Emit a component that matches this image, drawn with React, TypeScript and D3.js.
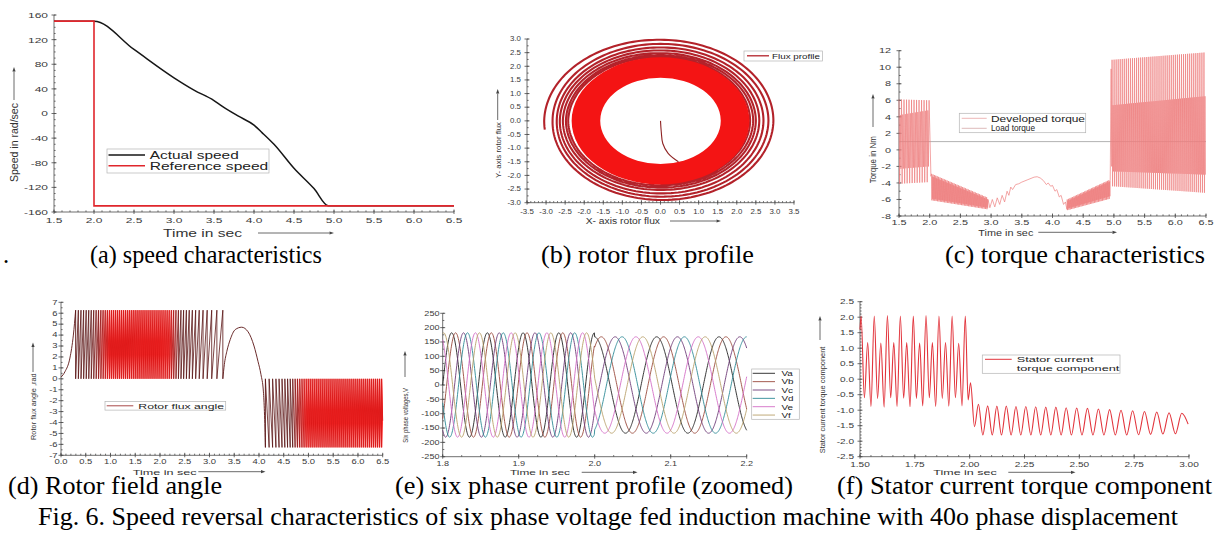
import React from "react";
import * as d3 from "d3";

type Pt = [number, number];
type Lin = d3.ScaleLinear<number, number>;

const SANS = "'Liberation Sans', Arial, sans-serif";
const SERIF = "'Liberation Serif', 'Times New Roman', Times, serif";
const DEG = Math.PI / 180;

// ---------------- (a) speed characteristics ----------------
const speedTime = [1.5, 2.0, 2.5, 3.0, 3.25, 3.5, 3.6, 3.8, 4.0, 4.1, 4.25, 4.5, 4.75, 4.93, 6.5];
const actualSpeed = [150, 150, 104, 58, 38, 21, 12, -4, -19, -31, -50, -89, -122, -150, -150];
const refTime = [1.5, 2.0, 2.0, 6.5];
const refSpeed = [150, 150, -150, -150];
const speedXTicks = [1.5, 2.0, 2.5, 3.0, 3.5, 4.0, 4.5, 5.0, 5.5, 6.0, 6.5];
const speedYTicks = [-160, -120, -80, -40, 0, 40, 80, 120, 160];

// ---------------- (b) rotor flux profile ----------------
// outer spiral: radius read at each quarter turn (deg, clockwise from +Y)
const spiralDeg = [264, 270, 360, 450, 540, 630, 720, 810, 900, 990, 1080, 1170, 1260, 1350, 1440, 1530, 1620, 1710, 1800, 1890, 1980, 2070, 2160, 2250, 2340, 2430, 2520, 2610, 2700];
const spiralR = [3.05, 3.05, 2.97, 2.96, 2.9, 2.83, 2.82, 2.83, 2.78, 2.72, 2.69, 2.7, 2.66, 2.64, 2.58, 2.59, 2.53, 2.56, 2.48, 2.5, 2.44, 2.48, 2.4, 2.43, 2.36, 2.42, 2.33, 2.35, 2.3];
const fluxBand = [1.58, 2.33]; // dense steady-state ring, inner / outer radius
const fluxStartX = [0, 0.02, 0.06, 0.2, 0.47];
const fluxStartY = [0, -0.4, -0.83, -1.19, -1.5];
const fluxXTicks = [-3.5, -3, -2.5, -2, -1.5, -1, -0.5, 0, 0.5, 1, 1.5, 2, 2.5, 3, 3.5];
const fluxYTicks = [-3, -2.5, -2, -1.5, -1, -0.5, 0, 0.5, 1, 1.5, 2, 2.5, 3];

// ---------------- (c) torque characteristics ----------------
type Band = { t0: number; t1: number; cycles: number; tall: Pt; low: Pt; deep: Pt; shallow: Pt };
const torqueBands: Band[] = [
  { t0: 1.5, t1: 1.99, cycles: 12, tall: [6.1, 6.0], low: [4.2, 4.8], deep: [-4.1, -3.9], shallow: [-2.3, -2.0] },
  { t0: 2.03, t1: 2.95, cycles: 40, tall: [-2.9, -5.8], low: [-3.2, -6.0], deep: [-6.1, -7.2], shallow: [-5.9, -7.0] },
  { t0: 4.24, t1: 4.94, cycles: 32, tall: [-6.0, -3.6], low: [-6.2, -3.8], deep: [-7.3, -5.9], shallow: [-7.1, -5.6] },
  { t0: 4.97, t1: 6.5, cycles: 46, tall: [10.9, 11.8], low: [5.4, 6.5], deep: [-4.4, -5.2], shallow: [-2.6, -3.0] },
];
const torqueLink0: Pt[] = [[1.99, 6.0], [2.02, -3.2]];
const torqueLink1: Pt[] = [[2.95, -6.0], [2.98, -7.0], [3.02, -6.0], [3.06, -6.9], [3.1, -5.8], [3.14, -6.6], [3.18, -5.5], [3.22, -6.3], [3.26, -5.0], [3.29, -5.5], [3.32, -4.5], [3.35, -4.8], [3.4, -4.2], [3.45, -4.1], [3.5, -3.9], [3.6, -3.6], [3.7, -3.3], [3.75, -3.25], [3.8, -3.4], [3.85, -3.7], [3.9, -4.2], [3.93, -4.0], [3.97, -4.4], [4.0, -4.3], [4.04, -5.0], [4.07, -4.8], [4.11, -5.7], [4.14, -5.5], [4.18, -6.6], [4.21, -6.3], [4.235, -7.2]];
const torqueLink2: Pt[] = [[4.94, -3.7], [4.955, 9.8], [4.965, -2.0]];
const loadTorque = 1;
const torqueXTicks = [1.5, 2.0, 2.5, 3.0, 3.5, 4.0, 4.5, 5.0, 5.5, 6.0, 6.5];
const torqueYTicks = [-8, -6, -4, -2, 0, 2, 4, 6, 8, 10, 12];

// ---------------- (d) rotor field angle ----------------
const angleStart: Pt[] = [[0, 0.15], [0.08, 0.65], [0.18, 1.9], [0.25, 4.0], [0.296, 6.28]];
const angleHump: Pt[] = [[3.27, 0], [3.3, 1.3], [3.35, 2.5], [3.42, 3.6], [3.52, 4.5], [3.65, 4.72], [3.78, 4.3], [3.9, 3.0], [3.98, 1.6], [4.04, 0.4], [4.09, -1.2], [4.11, -3.0], [4.13, -6.28]];
// sawtooth wrap period (s) read at a few instants
const posWrapT = [0.3, 0.7, 1.0, 1.5, 2.2, 2.6, 3.0, 3.27];
const posWrapP = [0.056, 0.05, 0.042, 0.04, 0.043, 0.06, 0.09, 0.13];
const negWrapT = [4.13, 4.4, 4.7, 5.0, 6.5];
const negWrapP = [0.075, 0.06, 0.048, 0.04, 0.04];
const angleXTicks = [0, 0.5, 1, 1.5, 2, 2.5, 3, 3.5, 4, 4.5, 5, 5.5, 6, 6.5];
const angleYTicks = [-7, -6, -5, -4, -3, -2, -1, 0, 1, 2, 3, 4, 5, 6, 7];

// ---------------- (e) six phase voltages ----------------
const phaseNames = ["Va", "Vb", "Vc", "Vd", "Ve", "Vf"];
const phaseColors = ["#222222", "#9a4a3c", "#6e3b78", "#2e8a96", "#d46ec6", "#b9a06a"];
const phaseShiftDeg = [0, 40, 120, 160, 240, 280];
const voltPeriod = [0.047, 0.082]; // before / after 2.0 s
const voltPeak = [182, 168];
const voltXTicks = [1.8, 1.9, 2.0, 2.1, 2.2];
const voltYTicks = [-250, -200, -150, -100, -50, 0, 50, 100, 150, 200, 250];

// ---------------- (f) stator current torque component ----------------
const currentPts: Pt[] = [
  [1.5, 1.6], [1.505, 2.04], [1.52, -0.6], [1.535, 1.18], [1.55, -0.88], [1.565, 2.04], [1.58, -0.62], [1.595, 1.17], [1.61, -0.9],
  [1.625, 2.05], [1.64, -0.6], [1.654, 1.18], [1.669, -0.88], [1.684, 2.04], [1.699, -0.61], [1.713, 1.18], [1.728, -0.89],
  [1.743, 2.04], [1.757, -0.62], [1.772, 1.17], [1.786, -0.86], [1.801, 2.05], [1.816, -0.6], [1.83, 1.18], [1.845, -0.88],
  [1.86, 2.04], [1.875, -0.62], [1.89, 1.18], [1.905, -0.87], [1.92, 2.04], [1.935, -0.6], [1.95, 1.16], [1.965, -0.86],
  [1.98, 2.04], [1.993, -0.67], [2.004, -0.12], [2.022, -1.53], [2.04, -0.81], [2.06, -1.8],
  [2.082, -0.86], [2.103, -1.8], [2.124, -0.87], [2.145, -1.8], [2.167, -0.87], [2.189, -1.8], [2.211, -0.88], [2.233, -1.8],
  [2.256, -0.88], [2.279, -1.8], [2.301, -0.89], [2.324, -1.8], [2.347, -0.9], [2.37, -1.8], [2.393, -0.9], [2.417, -1.8],
  [2.44, -0.92], [2.464, -1.8], [2.488, -0.93], [2.512, -1.8], [2.537, -0.94], [2.562, -1.8], [2.587, -0.96], [2.612, -1.8],
  [2.638, -0.98], [2.664, -1.8], [2.69, -1.0], [2.716, -1.8], [2.743, -1.02], [2.77, -1.79], [2.797, -1.04], [2.825, -1.78],
  [2.853, -1.06], [2.881, -1.77], [2.909, -1.08], [2.938, -1.76], [2.967, -1.1], [2.996, -1.45],
];
const currentXTicks = [1.5, 1.75, 2.0, 2.25, 2.5, 2.75, 3.0];
const currentYTicks = [-2.5, -2, -1.5, -1, -0.5, 0, 0.5, 1, 1.5, 2, 2.5];

// ---------------- scales (pixel boxes) ----------------
const aX = d3.scaleLinear().domain([1.5, 6.5]).range([54, 454]);
const aY = d3.scaleLinear().domain([-160, 160]).range([212, 15]);
const bX = d3.scaleLinear().domain([-3.5, 3.5]).range([527, 794]);
const bY = d3.scaleLinear().domain([-3, 3]).range([202.7, 39]);
const cX = d3.scaleLinear().domain([1.5, 6.5]).range([899, 1206]);
const cY = d3.scaleLinear().domain([-8, 12]).range([216, 50.7]);
const dX = d3.scaleLinear().domain([0, 6.5]).range([61, 382.7]);
const dY = d3.scaleLinear().domain([-7, 7]).range([455.3, 302.3]);
const eX = d3.scaleLinear().domain([1.8, 2.2]).range([442.7, 746.7]);
const eY = d3.scaleLinear().domain([-250, 250]).range([456.7, 313.3]);
const fX = d3.scaleLinear().domain([1.5, 3.0]).range([860, 1189]);
const fY = d3.scaleLinear().domain([-2.5, 2.5]).range([456.7, 301.7]);

// ---------------- helpers ----------------
function Txt(p: { x: number; y: number; size: number; children: React.ReactNode; anchor?: string; rot?: number; sx?: number; len?: number; fill?: string; family?: string }) {
  const { x, y, size, children, anchor = "start", rot = 0, sx = 1, len, fill = "#333", family = SANS } = p;
  const sc = rot !== 0 ? `scale(1,${sx})` : `scale(${sx},1)`;
  const extra: any = len ? { textLength: len, lengthAdjust: "spacingAndGlyphs" } : {};
  return (
    <text transform={`translate(${x},${y}) rotate(${rot}) ${sc}`} fontSize={size} fontFamily={family} textAnchor={anchor} fill={fill} {...extra}>
      {children}
    </text>
  );
}

function Arrow({ x1, y1, x2, y2 }: { x1: number; y1: number; x2: number; y2: number }) {
  const a = Math.atan2(y2 - y1, x2 - x1);
  const h = 4.5, w = 1.6;
  const bx = x2 - h * Math.cos(a), by = y2 - h * Math.sin(a);
  const pts = [[x2, y2], [bx + w * Math.sin(a), by - w * Math.cos(a)], [bx - w * Math.sin(a), by + w * Math.cos(a)]];
  return (
    <g>
      <line x1={x1} y1={y1} x2={bx} y2={by} stroke="#444" strokeWidth={0.8} />
      <polygon points={pts.map((q) => q.join(",")).join(" ")} fill="#444" />
    </g>
  );
}

function Axes(p: { xs: Lin; ys: Lin; xMaj: number[]; xMinStep: number; yMaj: number[]; yMinStep: number; xFmt: (v: number) => string; yFmt: (v: number) => string; fs: number; sx: number; xLabY: number; yLabX: number }) {
  const [xa, xb] = p.xs.range();
  const [yb, ya] = p.ys.range();
  const [dx0, dx1] = p.xs.domain();
  const [dy0, dy1] = p.ys.domain();
  const xMin = d3.range(dx0, dx1 + 1e-9, p.xMinStep);
  const yMin = d3.range(dy0, dy1 + 1e-9, p.yMinStep);
  return (
    <g>
      <g stroke="#4a4a4a" strokeWidth={0.8} fill="none">
        <line x1={xa} x2={xa} y1={ya} y2={yb} />
        <line x1={xa} x2={xb} y1={yb} y2={yb} />
        {yMin.map((v, i) => <line key={"ymn" + i} x1={xa} x2={xa + 1.6} y1={p.ys(v)} y2={p.ys(v)} />)}
        {p.yMaj.map((v, i) => <line key={"ymj" + i} x1={xa - 2.5} x2={xa + 2.5} y1={p.ys(v)} y2={p.ys(v)} />)}
        {xMin.map((v, i) => <line key={"xmn" + i} x1={p.xs(v)} x2={p.xs(v)} y1={yb} y2={yb - 1.6} />)}
        {p.xMaj.map((v, i) => <line key={"xmj" + i} x1={p.xs(v)} x2={p.xs(v)} y1={yb + 2} y2={yb - 2.5} />)}
      </g>
      {p.yMaj.map((v, i) => (
        <Txt key={"yl" + i} x={p.yLabX} y={p.ys(v) + p.fs * 0.36} size={p.fs} sx={p.sx} anchor="end" fill="#3a3a3a">{p.yFmt(v)}</Txt>
      ))}
      {p.xMaj.map((v, i) => (
        <Txt key={"xl" + i} x={p.xs(v)} y={p.xLabY} size={p.fs} sx={p.sx} anchor="middle" fill="#3a3a3a">{p.xFmt(v)}</Txt>
      ))}
    </g>
  );
}

function Box({ x, y, w, h }: { x: number; y: number; w: number; h: number }) {
  return <rect x={x} y={y} width={w} height={h} fill="#fff" stroke="#b4b4b4" strokeWidth={0.7} />;
}

const f1 = (v: number) => v.toFixed(1);
const f0 = (v: number) => String(v);
const f2 = (v: number) => v.toFixed(2);

// ---------------- panels ----------------
function SpeedPanel() {
  const ln = d3.line<Pt>().x((d) => aX(d[0])).y((d) => aY(d[1]));
  const actual = speedTime.map((t, i) => [t, actualSpeed[i]] as Pt);
  const ref = refTime.map((t, i) => [t, refSpeed[i]] as Pt);
  return (
    <g>
      <Axes xs={aX} ys={aY} xMaj={speedXTicks} xMinStep={0.1} yMaj={speedYTicks} yMinStep={10} xFmt={f1} yFmt={f0} fs={8} sx={1.5} xLabY={222.7} yLabX={48} />
      <path d={ln.curve(d3.curveMonotoneX)(actual) || ""} fill="none" stroke="#161616" strokeWidth={1.5} />
      <path d={ln.curve(d3.curveLinear)(ref) || ""} fill="none" stroke="#e0262c" strokeWidth={1.6} />
      <Txt x={18} y={182} size={10.5} rot={-90} len={79}>Speed in rad/sec</Txt>
      <Arrow x1={14} y1={100} x2={14} y2={67} />
      <Txt x={163} y={236.5} size={10.5} len={79}>Time in sec</Txt>
      <Arrow x1={258} y1={233} x2={334} y2={233} />
      <Box x={107} y={149} w={162} h={24} />
      <line x1={108.5} x2={145} y1={155} y2={155} stroke="#161616" strokeWidth={1.5} />
      <line x1={108.5} x2={145} y1={165.7} y2={165.7} stroke="#e0262c" strokeWidth={1.6} />
      <Txt x={149.7} y={159} size={10.5} len={89} fill="#222">Actual speed</Txt>
      <Txt x={149.7} y={170} size={10.5} len={118.6} fill="#222">Reference speed</Txt>
    </g>
  );
}

function FluxPanel() {
  const kx = bX(1) - bX(0);
  const ky = bY(0) - bY(1);
  const rAt = d3.scaleLinear().domain(spiralDeg).range(spiralR);
  const angles = d3.range(spiralDeg[0], spiralDeg[spiralDeg.length - 1] + 0.1, 2);
  const spiral = d3.lineRadial<number>().angle((a) => a * DEG).radius((a) => rAt(a))(angles) || "";
  const ring = d3.arc<any>()({ innerRadius: fluxBand[0], outerRadius: fluxBand[1], startAngle: 0, endAngle: 2 * Math.PI }) || "";
  const start = fluxStartX.map((x, i) => [x, fluxStartY[i]] as Pt);
  const ln = d3.line<Pt>().x((d) => bX(d[0])).y((d) => bY(d[1])).curve(d3.curveCatmullRom);
  return (
    <g>
      <Axes xs={bX} ys={bY} xMaj={fluxXTicks} xMinStep={0.1} yMaj={fluxYTicks} yMinStep={0.25} xFmt={f1} yFmt={f1} fs={6.3} sx={1.25} xLabY={214.3} yLabX={521} />
      <g transform={`translate(${bX(0)},${bY(0)}) scale(${kx},${ky})`}>
        <path d={spiral} fill="none" stroke="#b3222a" strokeWidth={2.1} vectorEffect="non-scaling-stroke" />
        <path d={ring} fill="#f41414" />
      </g>
      <path d={ln(start) || ""} fill="none" stroke="#8e2323" strokeWidth={1.1} />
      <Txt x={500.5} y={178} size={7.5} rot={-90} len={56}>Y- axis rotor flux</Txt>
      <Arrow x1={497.7} y1={120} x2={497.7} y2={89} />
      <Txt x={585.7} y={224} size={8.5} len={74.3}>X- axis rotor flux</Txt>
      <Arrow x1={670} y1={221} x2={721} y2={221} />
      <Box x={744} y={51} w={78.5} h={10} />
      <line x1={747} x2={769} y1={55.8} y2={55.8} stroke="#b3222a" strokeWidth={1.3} />
      <Txt x={772} y={58.6} size={7.5} len={48} fill="#222">Flux profile</Txt>
    </g>
  );
}

function bandPoints(b: Band): Pt[] {
  const env = (r: Pt) => d3.scaleLinear().domain([b.t0, b.t1]).range(r);
  const tall = env(b.tall), low = env(b.low), deep = env(b.deep), shallow = env(b.shallow);
  const step = (b.t1 - b.t0) / b.cycles;
  const out: Pt[] = [];
  for (let i = 0; i < b.cycles; i++) {
    const t = b.t0 + i * step;
    const q = [t, t + step * 0.25, t + step * 0.5, t + step * 0.75];
    out.push([q[0], tall(q[0])], [q[1], deep(q[1])], [q[2], low(q[2])], [q[3], shallow(q[3])]);
  }
  return out;
}

function TorquePanel() {
  const pts: Pt[] = [
    ...bandPoints(torqueBands[0]), ...torqueLink0,
    ...bandPoints(torqueBands[1]), ...torqueLink1,
    ...bandPoints(torqueBands[2]), ...torqueLink2,
    ...bandPoints(torqueBands[3]),
  ];
  const ln = d3.line<Pt>().x((d) => cX(d[0])).y((d) => cY(d[1]));
  return (
    <g>
      <Axes xs={cX} ys={cY} xMaj={torqueXTicks} xMinStep={0.1} yMaj={torqueYTicks} yMinStep={1} xFmt={f1} yFmt={f0} fs={7.5} sx={1.45} xLabY={225} yLabX={891} />
      <line x1={cX(1.5)} x2={cX(6.5)} y1={cY(loadTorque)} y2={cY(loadTorque)} stroke="#a8a8a8" strokeWidth={0.9} />
      <path d={ln(pts) || ""} fill="none" stroke="#ee7f7f" strokeWidth={0.7} />
      <Txt x={876.3} y={183.3} size={8.5} rot={-90} len={47.3}>Torque in Nm</Txt>
      <Arrow x1={873} y1={127} x2={873} y2={94} />
      <Txt x={978.3} y={235.5} size={9.5} len={55}>Time in sec</Txt>
      <Arrow x1={1038.3} y1={232.3} x2={1117} y2={232.3} />
      <Box x={959.3} y={113.3} w={126.4} h={19.4} />
      <line x1={961.7} x2={986.7} y1={118.3} y2={118.3} stroke="#e9a3a3" strokeWidth={0.8} />
      <line x1={961.7} x2={986.7} y1={128.3} y2={128.3} stroke="#d4a8a8" strokeWidth={0.8} />
      <Txt x={991} y={121.8} size={8.5} len={94} fill="#222">Developed torque</Txt>
      <Txt x={991} y={131} size={8.5} len={44} fill="#222">Load torque</Txt>
    </g>
  );
}

function wrapTimes(t0: number, t1: number, kt: number[], kp: number[]) {
  const per = d3.scaleLinear().domain(kt).range(kp).clamp(true);
  const ts = [t0];
  while (ts[ts.length - 1] < t1) ts.push(ts[ts.length - 1] + per(ts[ts.length - 1]));
  return ts;
}

function AnglePanel() {
  const TWO_PI = 6.28;
  const col = d3.scaleLinear<string>().domain([0.042, 0.051]).range(["#d81414", "#5a1414"]).clamp(true);
  const glow = d3.scaleLinear().domain([0.041, 0.05]).range([0.85, 0]).clamp(true);
  // positive sawtooth, stretched to end exactly where the hump begins
  const raw = wrapTimes(0.296, 3.27, posWrapT, posWrapP);
  const s = (3.27 - 0.296) / (raw[raw.length - 1] - 0.296);
  const pos = raw.map((t) => 0.296 + (t - 0.296) * s);
  const neg = wrapTimes(4.13, 6.5, negWrapT, negWrapP);
  const ln = d3.line<Pt>().x((d) => dX(d[0])).y((d) => dY(d[1]));
  const teeth: { d: string; c: string; a: number; b: number; sign: number; o: number }[] = [];
  for (let i = 0; i < pos.length - 1; i++) {
    const a = pos[i], b = pos[i + 1];
    teeth.push({ d: ln([[a, 0], [b, TWO_PI], [b, 0]]) || "", c: col(b - a), a, b, sign: 1, o: glow(b - a) });
  }
  for (let i = 0; i < neg.length - 1; i++) {
    const a = neg[i], b = neg[i + 1];
    const bb = Math.min(b, 6.5);
    const d = b <= 6.5 ? ln([[a, 0], [b, -TWO_PI], [b, 0]]) : ln([[a, 0], [6.5, (-TWO_PI * (6.5 - a)) / (b - a)]]);
    teeth.push({ d: d || "", c: col(b - a), a, b: bb, sign: -1, o: glow(b - a) });
  }
  const smooth = d3.line<Pt>().x((d) => dX(d[0])).y((d) => dY(d[1])).curve(d3.curveMonotoneX);
  return (
    <g>
      <defs>
        <linearGradient id="glowGrad" x1="0" y1="0" x2="0" y2="1">
          <stop offset="0" stopColor="#ff2a2a" stopOpacity={0.35} />
          <stop offset="0.45" stopColor="#ff1010" stopOpacity={1} />
          <stop offset="0.65" stopColor="#ff1010" stopOpacity={1} />
          <stop offset="1" stopColor="#ff2a2a" stopOpacity={0.35} />
        </linearGradient>
      </defs>
      <Axes xs={dX} ys={dY} xMaj={angleXTicks} xMinStep={0.1} yMaj={angleYTicks} yMinStep={0.5} xFmt={f1} yFmt={f0} fs={6.5} sx={1.45} xLabY={464} yLabX={57.5} />
      {teeth.filter((t) => t.o > 0).map((t, i) => (
        <rect key={"g" + i} x={dX(t.a)} width={dX(t.b) - dX(t.a) + 0.3} y={t.sign > 0 ? dY(TWO_PI) : dY(0)} height={dY(0) - dY(TWO_PI)} fill="url(#glowGrad)" fillOpacity={t.o} />
      ))}
      <path d={smooth(angleStart) || ""} fill="none" stroke="#5a1414" strokeWidth={0.9} />
      <line x1={dX(0.296)} x2={dX(0.296)} y1={dY(TWO_PI)} y2={dY(0)} stroke="#5a1414" strokeWidth={0.9} />
      {teeth.map((t, i) => <path key={i} d={t.d} fill="none" stroke={t.c} strokeWidth={0.8} />)}
      <path d={smooth(angleHump) || ""} fill="none" stroke="#5a1414" strokeWidth={0.9} />
      <line x1={dX(4.13)} x2={dX(4.13)} y1={dY(-TWO_PI)} y2={dY(0)} stroke="#5a1414" strokeWidth={0.9} />
      <Txt x={35.5} y={440} size={7} rot={-90} len={66.7}>Rotor flux angle ,rad</Txt>
      <Arrow x1={33} y1={372} x2={33} y2={342.5} />
      <Txt x={132.7} y={474.5} size={7.5} len={64}>Time in sec</Txt>
      <Arrow x1={198.3} y1={471.7} x2={265.5} y2={471.7} />
      <Box x={105} y={401.5} w={120.7} h={8.6} />
      <line x1={106.7} x2={133.3} y1={405.8} y2={405.8} stroke="#a84848" strokeWidth={1} />
      <Txt x={138.3} y={408.6} size={7} len={85.7} fill="#222">Rotor flux angle</Txt>
    </g>
  );
}

function VoltPanel() {
  const samples = d3.range(1.8, 2.2 + 1e-9, 0.0005);
  const theta = (t: number) =>
    t < 2.0
      ? (2 * Math.PI * (t - 1.8)) / voltPeriod[0]
      : (2 * Math.PI * 0.2) / voltPeriod[0] + (2 * Math.PI * (t - 2.0)) / voltPeriod[1];
  const ln = d3.line<Pt>().x((d) => eX(d[0])).y((d) => eY(d[1]));
  return (
    <g>
      <Axes xs={eX} ys={eY} xMaj={voltXTicks} xMinStep={0.025} yMaj={voltYTicks} yMinStep={25} xFmt={f1} yFmt={f0} fs={6.5} sx={1.4} xLabY={466} yLabX={439.5} />
      {phaseNames.map((n, k) => {
        const pts = samples.map((t) => [t, (t < 2.0 ? voltPeak[0] : voltPeak[1]) * Math.sin(theta(t) - phaseShiftDeg[k] * DEG)] as Pt);
        return <path key={n} d={ln(pts) || ""} fill="none" stroke={phaseColors[k]} strokeWidth={0.9} />;
      })}
      <Txt x={407.5} y={442.7} size={6.5} rot={-90} len={54.7}>Six phase voltages,V</Txt>
      <Arrow x1={405} y1={377} x2={405} y2={351} />
      <Txt x={510} y={475} size={7.5} len={60}>Time in sec</Txt>
      <Arrow x1={581.7} y1={472.3} x2={637.5} y2={472.3} />
      <Box x={751.7} y={369} w={47.6} h={50.3} />
      {phaseNames.map((n, k) => (
        <g key={"lg" + n}>
          <line x1={752.7} x2={775} y1={373.3 + k * 8.35} y2={373.3 + k * 8.35} stroke={phaseColors[k]} strokeWidth={0.9} />
          <Txt x={781.5} y={376.1 + k * 8.35} size={7.3} sx={1.35} fill="#222">{n}</Txt>
        </g>
      ))}
    </g>
  );
}

function CurrentPanel() {
  const ln = d3.line<Pt>().x((d) => fX(d[0])).y((d) => fY(d[1])).curve(d3.curveMonotoneX);
  return (
    <g>
      <Axes xs={fX} ys={fY} xMaj={currentXTicks} xMinStep={0.05} yMaj={currentYTicks} yMinStep={0.1} xFmt={f2} yFmt={f1} fs={6.5} sx={1.55} xLabY={467} yLabX={854} />
      <path d={ln(currentPts) || ""} fill="none" stroke="#e2333b" strokeWidth={1.1} />
      <Txt x={824.5} y={453.3} size={7.5} rot={-90} len={106.7}>Stator current torque component</Txt>
      <Arrow x1={820} y1={340} x2={820} y2={316} />
      <Txt x={933.3} y={475} size={7.5} len={63.4}>Time in sec</Txt>
      <Arrow x1={1008.3} y1={472.3} x2={1075.5} y2={472.3} />
      <Box x={982.3} y={355} w={137.7} h={18.3} />
      <line x1={985} x2={1011.7} y1={359.3} y2={359.3} stroke="#e2333b" strokeWidth={1} />
      <Txt x={1016.7} y={362.3} size={8} len={76.7} fill="#222">Stator current</Txt>
      <Txt x={1016.7} y={371.3} size={8} len={102.7} fill="#222">torque component</Txt>
    </g>
  );
}

function Captions() {
  const cap = { size: 24.5, family: SERIF, fill: "#000" };
  return (
    <g>
      <Txt x={3} y={263} {...cap}>.</Txt>
      <Txt x={90} y={263} len={232} {...cap}>(a) speed characteristics</Txt>
      <Txt x={541} y={263} len={213} {...cap}>(b) rotor flux profile</Txt>
      <Txt x={945} y={263} len={260} {...cap}>(c) torque characteristics</Txt>
      <Txt x={8} y={493.5} len={214} {...cap}>(d) Rotor field angle</Txt>
      <Txt x={395} y={493.5} len={398} {...cap}>(e) six phase current profile (zoomed)</Txt>
      <Txt x={837} y={493.5} len={375} {...cap}>(f) Stator current torque component</Txt>
      <Txt x={38} y={525} len={1140} {...cap}>Fig. 6. Speed reversal characteristics of six phase voltage fed induction machine with 40o phase displacement</Txt>
    </g>
  );
}

export default function App() {
  return (
    <svg width={1215} height={535} viewBox="0 0 1215 535" style={{ position: "absolute", left: 0, top: 0 }}>
      <rect width={1215} height={535} fill="#fff" />
      <SpeedPanel />
      <FluxPanel />
      <TorquePanel />
      <AnglePanel />
      <VoltPanel />
      <CurrentPanel />
      <Captions />
    </svg>
  );
}
